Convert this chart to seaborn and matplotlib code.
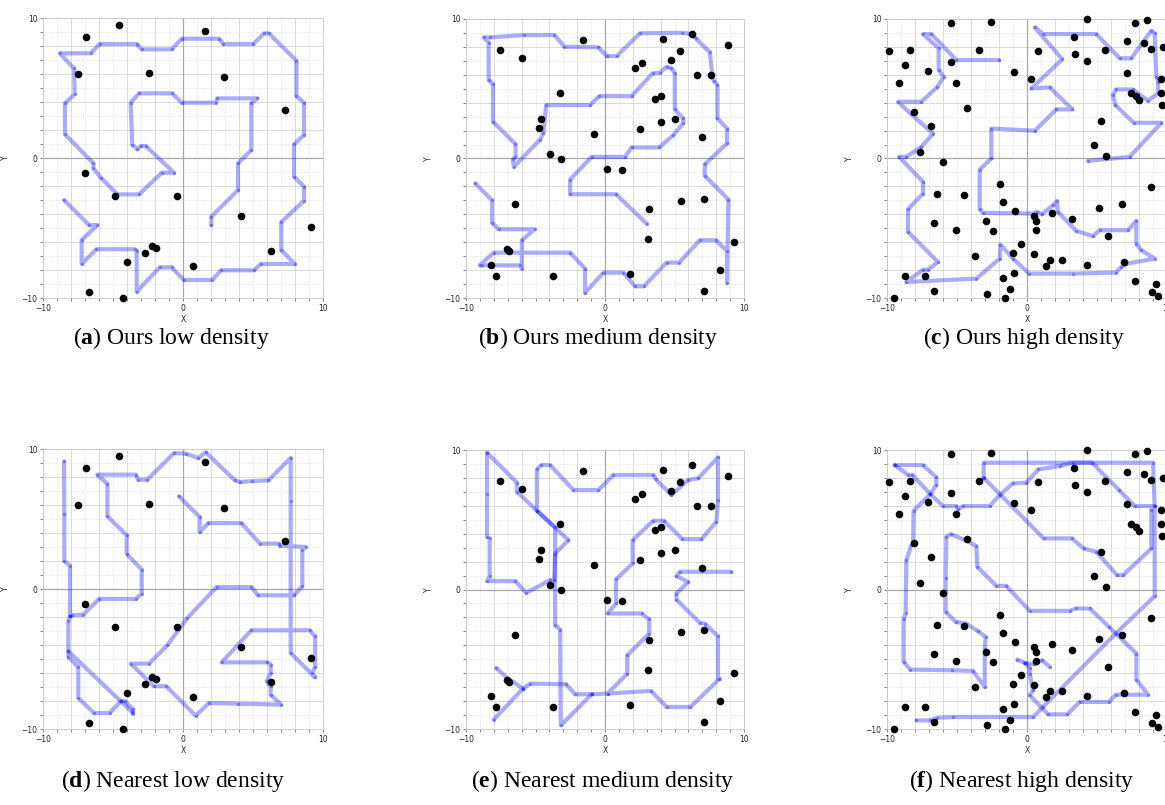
import matplotlib
matplotlib.use("Agg")
import matplotlib.pyplot as plt
from matplotlib.ticker import MultipleLocator, FuncFormatter
import seaborn as sns

sns.set_theme(style="white")
plt.rcParams["font.family"] = ["DejaVu Sans"]
plt.rcParams["mathtext.fontset"] = "custom"
plt.rcParams["mathtext.rm"] = "Liberation Serif"
plt.rcParams["mathtext.bf"] = "Liberation Serif:bold"
plt.rcParams["axes.unicode_minus"] = True

# ---------------------------------------------------------------- obstacles
low_x = [-4.57, -6.90, 1.55, -7.50, -2.43, 2.90, 7.26, -7.02, -4.83, -0.40,
         4.14, 9.14, -2.24, -1.95, -2.71, 6.29, -3.98, 0.74, -6.71, -4.26]
low_y = [9.52, 8.67, 9.05, 5.98, 6.10, 5.81, 3.40, -1.10, -2.69, -2.71,
         -4.14, -4.90, -6.29, -6.45, -6.79, -6.62, -7.43, -7.71, -9.57, -10.0]

med_x = [-7.58, -5.98, -1.60, 4.14, 6.24, 8.85, 5.38, 4.78, 2.63, 2.18,
         6.65, 7.63, -3.23, 3.61, 4.02, -4.57, -4.78, 5.05, 4.02, 2.49,
         -0.81, 6.99, -3.95, -3.13, 0.14, 1.20, -6.51, 5.50, 7.15, 3.16,
         3.06, 9.28, -7.06, -6.89, -8.21, -7.85, -3.73, 1.79, 8.25, 7.15]
med_y = [7.78, 7.22, 8.49, 8.54, 8.92, 8.13, 7.73, 7.06, 6.87, 6.46,
         5.98, 5.98, 4.67, 4.28, 4.47, 2.82, 2.18, 2.80, 2.63, 2.13,
         1.77, 1.51, 0.31, -0.07, -0.77, -0.84, -3.25, -3.06, -2.89, -3.59,
         -5.74, -6.00, -6.51, -6.65, -7.61, -8.40, -8.42, -8.25, -8.01, -9.50]

high_x = [-9.86, -8.33, -8.69, -9.14, -7.10, -5.45, -2.60, -3.43, -5.45, -5.10,
          -8.07, -4.26, -6.86, -7.62, -6.02, -6.40, -4.50, -1.93, -1.69, -0.88,
          -6.67, -5.10, -2.90, -2.45, 0.52, 0.62, 0.64, 1.79, -0.40, -0.98,
          0.52, -3.69, 1.62, 2.52, 1.33, -0.95, -1.69, -1.19, -1.57, -2.88,
          -6.67, -7.26, -8.71, -9.48, 3.19, 4.29, 5.14, 5.81, 6.76, 6.95,
          7.71, 8.86, 8.90, 9.24, 9.38, -0.90, 0.31, 0.81, 3.38, 3.45,
          4.29, 4.31, 5.55, 7.17, 7.71, 8.55, 8.38, 8.86, 9.69, 7.17,
          9.55, 9.57, 7.43, 7.81, 8.02, 9.67, 5.26, 4.76, 5.64]
high_y = [7.70, 7.78, 6.67, 5.43, 6.29, 9.74, 9.76, 7.78, 6.89, 5.41,
          3.30, 3.59, 2.30, 0.50, -0.22, -2.54, -2.63, -1.84, -3.09, -3.78,
          -4.62, -5.14, -4.50, -5.22, -4.11, -4.45, -5.14, -3.90, -6.10, -6.77,
          -6.84, -6.96, -7.25, -7.25, -7.68, -8.23, -8.59, -9.38, -9.98, -9.71,
          -9.52, -8.42, -8.42, -9.98, -4.31, -7.66, -3.54, -5.57, -3.23, -7.39,
          -8.76, -2.06, -9.57, -9.02, -9.83, 6.17, 5.69, 7.73, 8.68, 7.46,
          7.01, 9.98, 7.78, 8.40, 9.69, 9.93, 8.25, 7.85, 7.97, 6.10,
          5.67, 4.67, 4.67, 4.47, 4.16, 3.83, 2.68, 1.00, 0.17]

# ---------------------------------------------------------------- paths
ours_low_path = [[
    (-8.50, -3.00), (-6.71, -4.79), (-6.12, -4.79), (-7.24, -5.86), (-7.24, -7.57),
    (-6.19, -6.52), (-3.45, -6.52), (-3.31, -6.62), (-3.31, -9.55), (-1.67, -7.81),
    (-0.81, -7.81), (0.05, -8.71), (2.10, -8.71), (2.71, -8.02), (5.07, -8.02),
    (5.55, -7.57), (7.98, -7.57), (7.02, -6.57), (7.02, -4.57), (8.64, -3.05),
    (8.64, -2.05), (7.93, -1.33), (7.93, 0.98), (8.64, 1.64), (8.64, 3.95),
    (8.10, 4.43), (8.10, 6.95), (6.14, 8.90), (5.79, 8.90), (5.02, 8.14),
    (2.88, 8.14), (2.57, 8.52), (-0.10, 8.52), (-0.81, 7.76), (-2.95, 7.76),
    (-3.31, 8.14), (-5.95, 8.14), (-6.60, 7.48), (-8.81, 7.48), (-7.79, 6.40),
    (-7.74, 4.57), (-8.43, 3.90), (-8.43, 1.69), (-6.40, -0.38), (-6.40, -0.74),
    (-5.88, -1.40), (-4.69, -2.60), (-3.14, -2.60), (-1.52, -1.05), (-0.64, -1.05),
    (-2.67, 0.86), (-3.02, 0.86), (-3.26, 0.62), (-3.62, 0.93), (-3.74, 3.95),
    (-3.14, 4.62), (-0.76, 4.62), (-0.10, 3.95), (2.33, 3.95), (2.45, 4.26),
    (5.31, 4.26), (4.88, 3.90), (4.88, 0.57), (3.93, -0.38), (3.93, -2.29),
    (2.02, -4.19), (2.02, -4.79),
]]

ours_med_path = [[
    (-9.33, -1.79), (-8.13, -2.99), (-8.13, -4.59), (-7.66, -5.07), (-5.07, -5.07),
    (-5.98, -5.86), (-5.98, -7.89), (-6.15, -7.66), (-8.85, -7.66), (-9.02, -7.66),
    (-8.01, -6.75), (-2.51, -6.75), (-1.44, -7.89), (-1.44, -9.64), (-0.12, -8.18),
    (1.32, -8.18), (2.15, -9.16), (2.80, -9.16), (4.43, -7.46), (5.33, -7.46),
    (6.82, -5.86), (7.97, -5.86), (8.78, -6.63), (8.78, -8.92), (8.88, -2.94),
    (7.18, -1.24), (7.18, -0.41), (8.78, 1.08), (8.78, 2.15), (8.09, 2.87),
    (8.09, 5.26), (7.82, 5.57), (7.73, 5.91), (7.54, 7.61), (6.53, 8.61),
    (6.22, 8.92), (5.57, 9.02), (2.51, 8.97), (0.84, 7.34), (0.12, 7.34),
    (-0.48, 7.97), (-2.92, 8.01), (-3.64, 8.85), (-5.86, 8.85), (-8.30, 8.68),
    (-8.73, 8.68), (-8.37, 8.30), (-8.37, 5.62), (-8.06, 5.33), (-8.06, 2.63),
    (-6.44, 1.03), (-6.44, 0.12), (-6.63, -0.07), (-6.56, -0.60), (-4.67, 1.36),
    (-4.43, 1.84), (-4.23, 3.83), (-1.08, 3.83), (-0.41, 4.47), (1.91, 4.47),
    (3.42, 6.10), (3.95, 6.15), (4.43, 6.58), (4.78, 6.46), (5.02, 6.10),
    (5.02, 3.52), (5.62, 2.87), (5.62, 2.51), (4.90, 1.67), (3.90, 0.79),
    (1.91, 0.79), (1.44, 0.12), (-0.96, 0.12), (-2.51, -1.51), (-2.51, -2.56),
    (0.79, -2.56), (2.99, -4.67),
]]

ours_high_path = [[
    (-2.00, 7.06), (-5.05, 7.06), (-6.83, 8.92), (-7.43, 8.92), (-6.31, 7.89),
    (-6.31, 6.34), (-5.95, 5.86), (-6.43, 5.10), (-7.55, 4.07), (-9.21, 4.07),
    (-8.26, 3.16), (-6.71, 1.79), (-7.55, 0.84), (-8.62, 0.12), (-9.14, 0.12),
    (-7.43, -1.67), (-7.43, -2.51), (-8.50, -3.64), (-8.50, -5.26), (-6.36, -7.42),
    (-7.07, -7.97), (-7.43, -7.97), (-8.62, -8.85), (-3.62, -8.61), (-1.95, -7.18),
    (-1.90, -6.17), (-1.00, -7.18), (0.14, -8.25), (3.29, -8.25), (6.33, -8.18),
    (6.74, -7.78), (7.10, -7.54), (9.12, -7.18), (8.17, -6.58), (7.81, -6.10),
    (7.81, -4.47), (7.21, -5.14), (5.19, -5.14), (4.71, -5.57), (3.52, -5.19),
    (2.21, -3.83), (2.14, -3.04), (1.86, -3.35), (1.07, -4.00), (0.71, -3.83),
    (0.43, -3.95), (-3.14, -3.90), (-3.38, -3.64), (-3.38, -0.79), (-2.55, 0.00),
    (-2.55, 2.15), (0.55, 1.99), (2.10, 3.52), (3.24, 3.52), (1.62, 5.10),
    (0.31, 5.02), (2.52, 7.11), (0.55, 9.40), (1.14, 8.92), (4.95, 8.92),
    (6.62, 7.18), (7.45, 7.18), (8.24, 8.30), (8.88, 9.16), (9.12, 8.97),
    (9.24, 5.86), (9.36, 5.50), (9.36, 4.67), (8.64, 4.14), (7.57, 4.95),
    (6.38, 4.95), (6.14, 4.55), (6.31, 3.83), (7.62, 2.56), (9.60, 2.56),
    (7.33, 0.12), (4.36, -0.17),
]]

nearest_low_path = [
    [(-0.29, 6.62), (1.19, 5.14), (1.19, 4.05), (1.81, 4.71), (4.17, 4.71),
     (5.50, 3.24), (6.86, 3.24), (6.90, 3.10), (8.76, 3.00), (8.52, 2.81),
     (8.52, 0.19), (7.93, -0.45), (5.36, -0.45), (4.88, 0.14), (2.40, 0.14),
     (0.31, -2.07), (-1.12, -4.02), (-2.43, -5.33), (-3.74, -5.33), (-2.07, -6.95),
     (-1.19, -6.95), (0.90, -9.05), (1.86, -8.14), (3.93, -8.19), (7.02, -8.26),
     (6.26, -7.55), (6.26, -6.95), (5.98, -6.60), (6.26, -6.00), (6.26, -5.40),
     (6.02, -5.24), (2.76, -5.24), (4.88, -2.95), (9.05, -2.95), (9.43, -3.38),
     (9.43, -5.60), (9.19, -6.00), (9.43, -6.31), (7.69, -4.57), (7.69, 6.26),
     (7.69, 9.36), (6.10, 7.76), (4.95, 7.71), (4.07, 7.64), (3.71, 7.76),
     (1.62, 9.76), (1.10, 9.36), (0.19, 9.67), (-0.64, 9.71), (-2.55, 7.81),
     (-3.19, 7.81), (-3.38, 8.17), (-6.12, 8.17), (-5.40, 7.50), (-5.40, 5.19),
     (-4.02, 3.83), (-4.02, 2.50), (-2.95, 1.38), (-2.95, -0.33), (-3.38, -0.71),
     (-6.00, -0.71), (-7.12, -1.83), (-7.90, -1.88), (-8.07, -1.95), (-8.07, 1.67),
     (-8.48, 1.98), (-8.48, 5.38), (-8.50, 9.12)],
    [(-8.07, -1.95), (-8.19, -2.31), (-8.19, -4.86), (-7.48, -5.57), (-7.48, -7.79),
     (-6.36, -8.86), (-5.24, -8.86), (-4.45, -8.02), (-4.14, -8.02), (-3.57, -8.57),
     (-3.57, -8.90)],
    [(-8.19, -4.45), (-4.45, -8.02), (-3.62, -8.81)],
]

nearest_med_path = [
    [(9.09, 1.27), (5.38, 1.27), (5.14, 0.96), (5.98, 0.55), (5.14, -0.29),
     (5.14, -0.72), (6.82, -2.39), (7.18, -2.44), (8.13, -3.35), (8.13, -6.39),
     (8.25, -6.39), (6.15, -8.42), (4.43, -8.42), (3.30, -7.27), (0.19, -7.46),
     (-0.96, -7.51), (-3.18, -9.74), (-3.23, -2.87), (-3.59, -2.56), (-3.59, 4.45),
     (-4.90, 5.65), (-4.90, 8.61), (-4.59, 8.92), (-3.95, 8.92), (-2.27, 7.13),
     (-0.48, 7.13), (0.60, 8.21), (3.47, 8.21), (3.66, 7.89), (4.78, 6.77),
     (5.98, 7.85), (6.70, 7.97), (8.13, 9.47), (8.13, 6.41), (8.01, 4.86),
     (6.94, 3.61), (5.57, 3.61), (4.23, 4.93), (3.47, 4.93), (1.99, 3.54),
     (1.99, 1.87), (0.79, 0.72), (0.79, -1.00), (0.19, -1.72), (2.63, -1.72),
     (3.18, -2.15), (3.18, -3.16), (1.60, -4.71), (1.60, -6.03), (0.19, -7.46)],
    [(-7.82, -5.62), (-7.06, -6.32), (-5.91, -7.11), (-8.01, -9.33)],
    [(-5.91, -7.11), (-5.38, -6.75), (-2.80, -6.79), (-2.15, -7.51), (-0.96, -7.51)],
    [(-8.49, 9.81), (-8.49, 6.84), (-8.49, 3.78), (-8.30, 3.66), (-8.30, 0.96),
     (-8.49, 0.60), (-6.46, 0.60), (-5.67, -0.24), (-3.95, 0.67), (-3.66, 0.67),
     (-3.59, 2.58), (-2.63, 3.54), (-4.90, 5.65), (-6.34, 7.01), (-6.34, 7.66),
     (-8.49, 9.81)],
]

nearest_high_path = [
    [(-9.45, 8.92), (-7.43, 8.92), (-6.48, 8.04), (-6.48, 7.49), (-6.90, 6.84),
     (-8.10, 5.65), (-8.14, 3.30), (-8.26, 3.18), (-8.62, 2.11), (-8.67, -1.72),
     (-8.81, -2.08), (-8.81, -5.19), (-8.33, -5.74), (-5.33, -5.79), (-3.86, -5.84),
     (-3.02, -6.99), (-3.02, -4.23), (-2.95, -3.40), (-3.50, -2.99), (-4.33, -2.44),
     (-5.10, -2.32), (-5.81, -1.60), (-5.81, 0.79), (-5.76, 3.78), (-5.45, 3.97),
     (-4.26, 3.47), (-3.62, 3.11), (-3.55, 1.63), (-2.19, 0.26), (-1.48, 0.26),
     (0.19, -1.53), (3.05, -1.53), (3.48, -1.36), (4.48, -1.36), (5.86, -2.68),
     (7.81, -4.59), (7.81, -6.46), (8.64, -7.54), (6.33, -7.54), (5.86, -8.06),
     (3.76, -8.06), (2.88, -8.95), (1.50, -8.95), (0.19, -7.58), (0.43, -7.22),
     (0.19, -6.03), (0.19, -5.62), (-0.17, -5.26), (-0.69, -5.02)],
    [(-0.17, -5.26), (0.50, -5.36), (1.07, -5.07), (1.62, -5.55)],
    [(-9.45, 8.92), (-8.50, 8.21), (-8.19, 8.21), (-6.90, 6.84), (-6.00, 5.98),
     (-5.05, 5.98), (-4.93, 5.74), (-4.57, 5.98), (-2.67, 5.98), (-1.95, 6.77),
     (-1.00, 7.61), (-0.05, 7.66), (0.81, 8.61), (2.33, 8.85), (3.29, 9.09),
     (4.64, 9.09), (6.57, 7.13), (7.69, 5.98), (9.12, 5.98)],
    [(-3.10, 8.01), (-3.10, 9.09), (9.00, 9.09), (9.12, 5.98), (9.12, -0.48),
     (6.33, -3.16), (1.14, -8.42), (0.43, -9.14), (-5.29, -9.14), (-6.40, -9.19),
     (-6.95, -9.38), (-7.90, -9.38)],
    [(-3.10, 8.01), (1.19, 3.66), (3.21, 3.66), (4.05, 2.94), (4.95, 2.70),
     (6.43, 1.03), (6.86, 1.03), (8.88, 2.94), (8.88, 5.69)],
]

captions = ["Ours low density", "Ours medium density", "Ours high density",
            "Nearest low density", "Nearest medium density", "Nearest high density"]
letters = ["a", "b", "c", "d", "e", "f"]

# ---------------------------------------------------------------- layout
W, H = 1165, 805
fig = plt.figure(figsize=(W / 100, H / 100), dpi=100)

# axes boxes in pixels: left, top, width, height
boxes = [(43, 18, 280, 280), (466, 19, 278, 279), (887, 19, 280, 279),
         (43, 449, 280, 280), (466, 450, 278, 279), (887, 450, 280, 279)]
caption_pos = [(171, 338), (598, 338), (1024, 338),
               (173, 781), (603, 781), (1022, 781)]

panels = [
    (low_x, low_y, ours_low_path),
    (med_x, med_y, ours_med_path),
    (high_x, high_y, ours_high_path),
    (low_x, low_y, nearest_low_path),
    (med_x, med_y, nearest_med_path),
    (high_x, high_y, nearest_high_path),
]


def tick_fmt(v, _):
    if abs(v) in (0, 10):
        return f"{int(round(v))}".replace("-", "\u2212")
    return ""


for (l, t, w, h), (px, py, path), cap, let, (cx, cy) in zip(
        boxes, panels, captions, letters, caption_pos):
    ax = fig.add_axes([l / W, 1 - (t + h) / H, w / W, h / H])
    ax.set_xlim(-10, 10)
    ax.set_ylim(-10, 10)
    for axis in (ax.xaxis, ax.yaxis):
        axis.set_major_locator(MultipleLocator(2))
        axis.set_minor_locator(MultipleLocator(1))
        axis.set_major_formatter(FuncFormatter(tick_fmt))
    ax.grid(which="major", color="#d4d4d4", lw=0.6, ls="-", zorder=0)
    ax.grid(which="minor", color="#dedede", lw=0.5, ls=(0, (1.5, 1.5)), zorder=0)
    ax.axhline(0, color="#a8a8a8", lw=0.9, zorder=1)
    ax.axvline(0, color="#a8a8a8", lw=0.9, zorder=1)
    ax.tick_params(which="both", direction="out", length=2.5, width=0.5,
                   color="#555555", labelsize=5.5, pad=1.5,
                   bottom=True, left=True, labelcolor="#222222")
    for side, sp in ax.spines.items():
        sp.set_color("#c8c8c8")
        sp.set_linewidth(0.6)
    ax.set_xlabel("X", fontsize=5.5, labelpad=1.5, color="#222222")
    ax.set_ylabel("Y", fontsize=5.5, color="#222222")
    ax.yaxis.set_label_coords(-33 / w, 0.5)

    for seg in path:
        sx = [p[0] for p in seg]
        sy = [p[1] for p in seg]
        sns.lineplot(x=sx, y=sy, sort=False, estimator=None, ax=ax,
                     color="blue", alpha=0.33, lw=3.0, marker="o",
                     markersize=2.4, markeredgewidth=0, zorder=2)

    sns.scatterplot(x=px, y=py, ax=ax, color="black", s=30, linewidth=0,
                    zorder=3, clip_on=False)

    fig.text(cx / W, 1 - cy / H, "(" + rf"$\mathbf{{{let}}}$" + ") " + cap,
             ha="center", va="center", fontsize=17, family="Liberation Serif",
             color="black")

fig.savefig("out.png", dpi=100)
